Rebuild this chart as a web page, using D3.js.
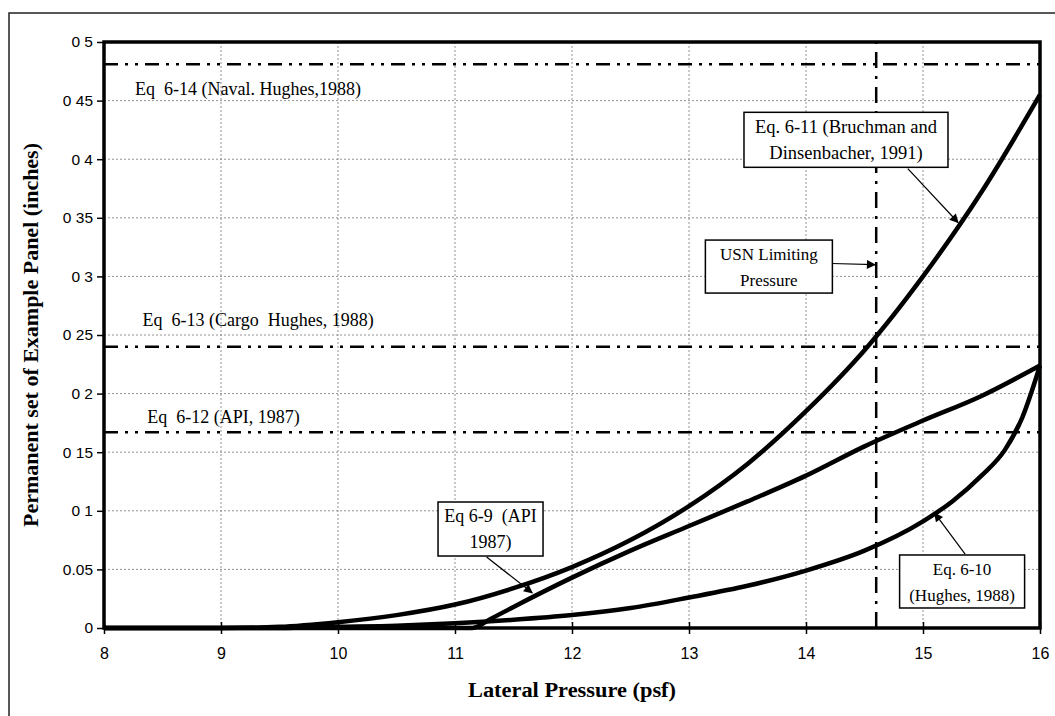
<!DOCTYPE html>
<html>
<head>
<meta charset="utf-8">
<script src="https://cdn.jsdelivr.net/npm/d3@7"></script>
<style>
  body { margin: 0; background: #fff; }
  svg { display: block; }
</style>
</head>
<body>
<div id="chart"></div>
<script>
// Eq 6-11 (Bruchman and Dinsenbacher, 1991)
const bruchmanPressure = [8, 9, 9.5, 10, 10.5, 11, 11.5, 12, 12.5, 13, 13.5, 14, 14.5, 15, 15.5, 16]
const bruchmanSet = [0, 0, 0.001, 0.005, 0.011, 0.02, 0.034, 0.052, 0.075, 0.104, 0.14, 0.185, 0.237, 0.3, 0.372, 0.455]

// Eq 6-9 (API 1987)
const apiPressure = [8, 11.15, 11.3, 11.5, 12, 12.5, 13, 13.5, 14, 14.5, 15, 15.5, 16]
const apiSet = [0, 0, 0.0075, 0.018, 0.043, 0.066, 0.087, 0.108, 0.13, 0.155, 0.177, 0.198, 0.224]

// Eq 6-10 (Hughes, 1988)
const hughesPressure = [8, 9.5, 10, 10.5, 11, 11.5, 12, 12.5, 13, 13.5, 14, 14.5, 15, 15.25, 15.5, 15.7, 15.85, 16]
const hughesSet = [0, 0, 0.001, 0.002, 0.004, 0.007, 0.011, 0.017, 0.026, 0.036, 0.049, 0.066, 0.091, 0.108, 0.13, 0.152, 0.18, 0.224]

// horizontal limits
const limitSets = [0.481, 0.24, 0.167]
const limitLabels = ["Eq  6-14 (Naval. Hughes,1988)", "Eq  6-13 (Cargo  Hughes, 1988)", "Eq  6-12 (API, 1987)"]
const usnPressure = 14.6

const xTicks = [8, 9, 10, 11, 12, 13, 14, 15, 16]
const yTicks = [0, 0.05, 0.1, 0.15, 0.2, 0.25, 0.3, 0.35, 0.4, 0.45, 0.5]
const yTickLabels = ["0", "0.05", "0 1", "0 15", "0 2", "0 25", "0 3", "0 35", "0 4", "0 45", "0 5"]

const W = 1055, H = 716
const margin = { top: 42, right: 15, bottom: 88, left: 104 }
const serif = "Liberation Serif, Times New Roman, serif"
const sans = "Liberation Sans, Arial, sans-serif"

const x = d3.scaleLinear().domain([8, 16]).range([margin.left, W - margin.right])
const y = d3.scaleLinear().domain([0, 0.5]).range([H - margin.bottom, margin.top])

const svg = d3.select("#chart").append("svg")
  .attr("width", W)
  .attr("height", H)

svg.append("defs").append("marker")
  .attr("id", "arrow")
  .attr("viewBox", "0 0 10 10")
  .attr("refX", 9).attr("refY", 5)
  .attr("markerWidth", 10).attr("markerHeight", 9)
  .attr("markerUnits", "userSpaceOnUse")
  .attr("orient", "auto")
  .append("path")
  .attr("d", "M0,0 L10,5 L0,10 z")
  .attr("fill", "#000")

// outer frame (only top and left show)
svg.append("path")
  .attr("d", `M9,${H} L9,13 L${W},13`)
  .attr("fill", "none")
  .attr("stroke", "#222")
  .attr("stroke-width", 1.5)

// grid
svg.append("g").selectAll("line")
  .data(yTicks.slice(1, -1))
  .join("line")
  .attr("x1", x(8)).attr("x2", x(16))
  .attr("y1", d => y(d)).attr("y2", d => y(d))
  .attr("stroke", "#777")
  .attr("stroke-width", 0.8)
  .attr("stroke-dasharray", "2,2")

svg.append("g").selectAll("line")
  .data(xTicks.slice(1, -1))
  .join("line")
  .attr("x1", d => x(d)).attr("x2", d => x(d))
  .attr("y1", y(0)).attr("y2", y(0.5))
  .attr("stroke", "#777")
  .attr("stroke-width", 0.8)
  .attr("stroke-dasharray", "2,2")

// axes
const xAxis = svg.append("g")
  .attr("transform", `translate(0,${y(0)})`)
  .call(d3.axisBottom(x).tickValues(xTicks).tickSize(6).tickPadding(14).tickFormat(d3.format("d")))
xAxis.select(".domain").remove()
xAxis.selectAll(".tick line").attr("y1", -6).attr("stroke-width", 1.5)
xAxis.selectAll("text")
  .attr("font-family", sans)
  .attr("font-size", 16)
  .attr("fill", "#000")

const yAxis = svg.append("g")
  .attr("transform", `translate(${x(8)},0)`)
  .call(d3.axisLeft(y).tickValues(yTicks).tickSize(7).tickPadding(4).tickFormat((d, i) => yTickLabels[i]))
yAxis.select(".domain").remove()
yAxis.selectAll(".tick line").attr("stroke-width", 1.5)
yAxis.selectAll("text")
  .attr("font-family", sans)
  .attr("font-size", 15.5)
  .attr("fill", "#000")

// limit lines
svg.append("g").selectAll("line")
  .data(limitSets)
  .join("line")
  .attr("x1", x(8)).attr("x2", x(16))
  .attr("y1", d => y(d)).attr("y2", d => y(d))
  .attr("stroke", "#000")
  .attr("stroke-width", 2.5)
  .attr("stroke-dasharray", "14,7,3,7,3,7")

svg.append("g").selectAll("text")
  .data(limitSets)
  .join("text")
  .attr("x", (d, i) => x([8.265, 8.33, 8.37][i]))
  .attr("y", (d, i) => y([0.46, 0.263, 0.18][i]))
  .attr("dy", "0.35em")
  .attr("font-family", serif)
  .attr("font-size", 18)
  .style("white-space", "pre")
  .text((d, i) => limitLabels[i])

svg.append("line")
  .attr("x1", x(usnPressure)).attr("x2", x(usnPressure))
  .attr("y1", y(0)).attr("y2", y(0.5))
  .attr("stroke", "#000")
  .attr("stroke-width", 2.5)
  .attr("stroke-dasharray", "16,8,3,8")

// curves
const line = d3.line()
  .x(d => x(d[0]))
  .y(d => y(d[1]))
  .curve(d3.curveMonotoneX)

const series = [
  d3.zip(bruchmanPressure, bruchmanSet),
  d3.zip(apiPressure, apiSet),
  d3.zip(hughesPressure, hughesSet)
]

svg.append("g").selectAll("path")
  .data(series)
  .join("path")
  .attr("d", line)
  .attr("fill", "none")
  .attr("stroke", "#000")
  .attr("stroke-width", 4.5)
  .attr("stroke-linejoin", "round")

// plot frame
svg.append("rect")
  .attr("x", x(8)).attr("y", y(0.5))
  .attr("width", x(16) - x(8))
  .attr("height", y(0) - y(0.5))
  .attr("fill", "none")
  .attr("stroke", "#000")
  .attr("stroke-width", 3.5)

// callout boxes
const notes = [
  { lines: ["Eq. 6-11 (Bruchman and", "Dinsenbacher, 1991)"], box: [13.47, 0.44], w: 204, h: 55, size: 18.5, from: [14.87, 0.392], to: [15.3, 0.346] },
  { lines: ["USN Limiting", "Pressure"], box: [13.14, 0.331], w: 127, h: 53, size: 17, from: [14.22, 0.311], to: [14.59, 0.31] },
  { lines: ["Eq 6-9  (API", "1987)"], box: [10.855, 0.1075], w: 105, h: 54, size: 18, from: [11.27, 0.0606], to: [11.66, 0.03] },
  { lines: ["Eq. 6-10", "(Hughes, 1988)"], box: [14.8, 0.0623], w: 125, h: 53, size: 17, from: [15.36, 0.063], to: [15.1, 0.098] }
]

const note = svg.append("g").selectAll("g")
  .data(notes)
  .join("g")

note.append("line")
  .attr("x1", d => x(d.from[0])).attr("y1", d => y(d.from[1]))
  .attr("x2", d => x(d.to[0])).attr("y2", d => y(d.to[1]))
  .attr("stroke", "#000")
  .attr("stroke-width", 1.2)
  .attr("marker-end", "url(#arrow)")

note.append("rect")
  .attr("x", d => x(d.box[0])).attr("y", d => y(d.box[1]))
  .attr("width", d => d.w).attr("height", d => d.h)
  .attr("fill", "#fff")
  .attr("stroke", "#000")
  .attr("stroke-width", 1.5)

note.each(function(d) {
  const g = d3.select(this)
  d.lines.forEach((t, i) => {
    g.append("text")
      .attr("x", x(d.box[0]) + d.w / 2)
      .attr("y", y(d.box[1]) + 14 + i * 26)
      .attr("dy", "0.35em")
      .attr("text-anchor", "middle")
      .attr("font-family", serif)
      .attr("font-size", d.size)
      .style("white-space", "pre")
      .text(t)
  })
})

// axis titles
svg.append("text")
  .attr("x", 572)
  .attr("y", 697)
  .attr("text-anchor", "middle")
  .attr("font-family", serif)
  .attr("font-weight", "700")
  .attr("font-size", 20)
  .attr("textLength", 208)
  .attr("lengthAdjust", "spacingAndGlyphs")
  .text("Lateral Pressure (psf)")

svg.append("text")
  .attr("transform", `translate(31,335) rotate(-90)`)
  .attr("text-anchor", "middle")
  .attr("dy", "0.35em")
  .attr("font-family", serif)
  .attr("font-weight", "700")
  .attr("font-size", 20)
  .attr("textLength", 384)
  .attr("lengthAdjust", "spacingAndGlyphs")
  .text("Permanent set of Example Panel (inches)")
</script>
</body>
</html>
